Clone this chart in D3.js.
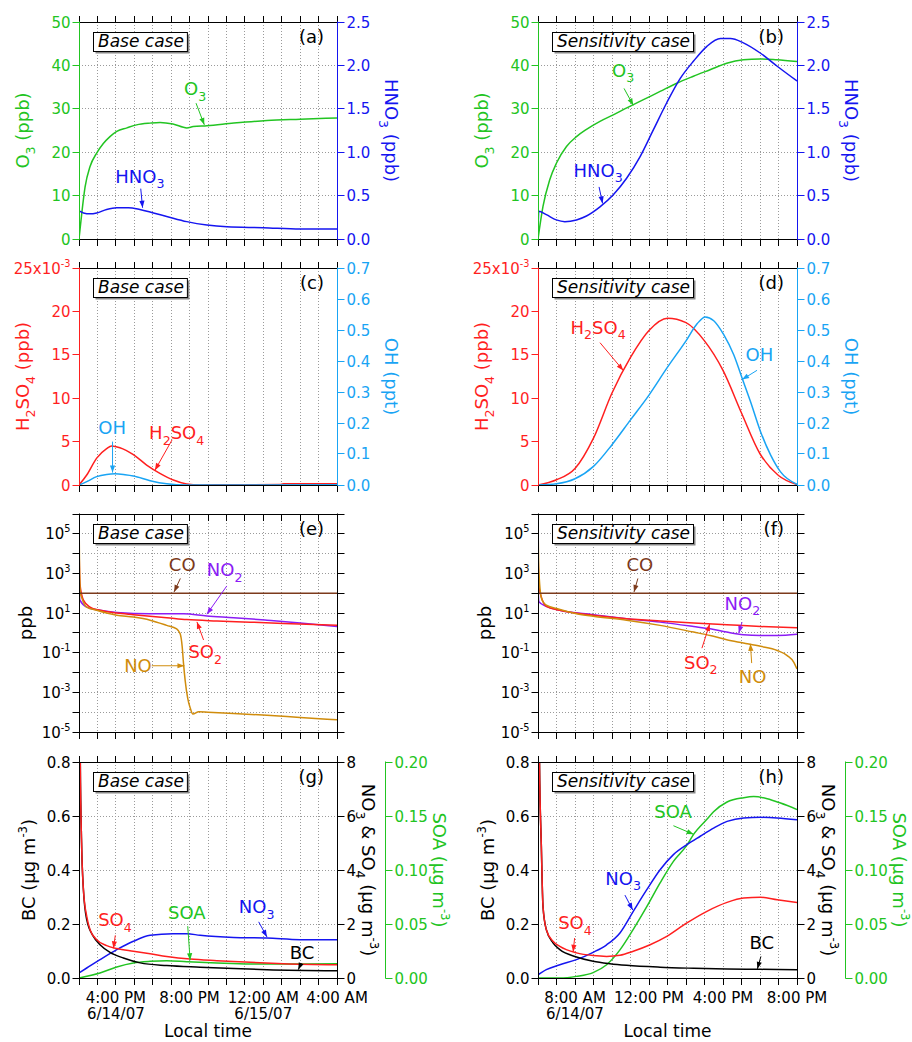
<!DOCTYPE html>
<html><head><meta charset="utf-8">
<script src="https://cdn.jsdelivr.net/npm/d3@7"></script>
<style>body{margin:0;background:#fff}svg{display:block}text{font-family:"DejaVu Sans",sans-serif}</style>
</head><body><svg id="chart" width="912" height="1042"></svg>
<script>
// ---------------- DATA (time in hours since start of run) ----------------
const HOURS = 14;
const baseStart = new Date(2007, 5, 14, 14, 0);   // 2:00 PM 6/14/07
const sensStart = new Date(2007, 5, 14, 6, 0);    // 6:00 AM 6/14/07
const labeledHours = [2, 6, 10, 14];

// tick values
const o3Ticks = [0, 10, 20, 30, 40, 50];
const hno3Ticks = [0, 0.5, 1.0, 1.5, 2.0, 2.5];
const h2so4Ticks = [0, 0.005, 0.010, 0.015, 0.020, 0.025];
const ohTicks = [0, 0.1, 0.2, 0.3, 0.4, 0.5, 0.6, 0.7];
const logExps = [-5, -4, -3, -2, -1, 0, 1, 2, 3, 4, 5, 6];
const logLabelExps = [5, 3, 1, -1, -3, -5];
const bcTicks = [0, 0.2, 0.4, 0.6, 0.8];
const aeroTicks = [0, 2, 4, 6, 8];
const soaTicks = [0, 0.05, 0.10, 0.15, 0.20];

// (a) base case: O3 (ppb), HNO3 (ppb)
const o3Base = [[0,0],[0.05,2],[0.15,5.9],[0.33,12],[0.6,16.7],[0.96,19.8],[1.32,22],[1.68,23.6],[2.05,24.8],[2.6,25.6],[3.13,26.3],[3.86,26.7],[4.4,26.85],[5.1,26.5],[5.85,25.6],[6.2,25.9],[6.94,26.1],[8.4,26.7],[10.2,27.3],[12.0,27.6],[14,27.9]];
const hno3Base = [[0,0],[0.02,0.32],[0.24,0.30],[0.6,0.29],[0.96,0.30],[1.5,0.34],[2.05,0.36],[2.68,0.36],[3.3,0.34],[4.04,0.30],[4.76,0.26],[5.85,0.20],[6.94,0.16],[8.03,0.14],[10.0,0.13],[12.0,0.115],[14,0.115]];
// (b) sensitivity case
const o3Sens = [[0,0],[0.27,7.5],[0.63,13.6],[1.0,17.5],[1.54,21.3],[2.08,23.6],[2.6,25.2],[3.35,27.1],[4.07,28.6],[4.8,30.2],[5.7,32.1],[6.6,34],[7.5,35.9],[8.4,37.5],[9.3,39],[10.2,40.5],[11.1,41.3],[12.0,41.5],[12.9,41.3],[14,40.9]];
const hno3Sens = [[0,0],[0.04,0.32],[0.45,0.28],[0.99,0.22],[1.45,0.20],[2.08,0.22],[2.62,0.265],[3.35,0.37],[4.07,0.51],[4.79,0.70],[5.52,0.95],[6.24,1.26],[6.96,1.57],[7.69,1.85],[8.41,2.05],[9.13,2.22],[9.86,2.31],[10.4,2.31],[11.1,2.26],[12.03,2.14],[12.93,1.99],[14,1.82]];
// (c) base case: H2SO4 (ppb), OH (ppt)
const h2so4Base = [[0,0],[0.42,1.15e-3],[0.96,3.1e-3],[1.5,4.2e-3],[1.77,4.5e-3],[2.22,4.3e-3],[2.95,3.5e-3],[3.67,2.3e-3],[4.39,1.35e-3],[5.12,0.58e-3],[5.84,0.12e-3],[6.56,0],[8,0.03e-3],[10.9,0.05e-3],[11.1,0.15e-3],[14,0.15e-3]];
const ohBase = [[0,0],[0.42,0.011],[0.96,0.027],[1.5,0.034],[1.95,0.036],[2.5,0.033],[2.95,0.029],[3.86,0.014],[4.76,0.004],[5.84,0],[14,0.001]];
// (d) sensitivity case
const h2so4Sens = [[0,0],[1,0.6e-3],[2,1.9e-3],[3,5.4e-3],[4,10.6e-3],[5,14.7e-3],[6,17.8e-3],[7,19.2e-3],[8,18.7e-3],[9,16.6e-3],[10,13.2e-3],[11,8.3e-3],[12,3.6e-3],[13,1.1e-3],[14,0.05e-3]];
const ohSens = [[0,0],[1,0.004],[2,0.02],[3,0.06],[4,0.13],[5,0.21],[6,0.29],[7,0.38],[8,0.465],[8.6,0.52],[9.04,0.542],[9.5,0.53],[10.04,0.485],[10.58,0.42],[11.03,0.345],[11.48,0.27],[12.03,0.172],[12.57,0.097],[13.1,0.043],[14,0.002]];
// (e) base case gases (ppb)
const coBase = [[0,3e4],[0.02,100],[14,100]];
const noBase = [[0,8e5],[0.03,2e3],[0.08,100],[0.15,60],[0.42,20],[0.96,13.8],[2.05,7.8],[2.95,6.3],[3.86,4.4],[4.76,2.4],[5.3,1.6],[5.49,0.9],[5.6,0.2],[5.67,0.03],[5.76,0.004],[5.9,5e-4],[6.03,1.7e-4],[6.18,8e-5],[6.5,1.05e-4],[7.0,1.0e-4],[8.39,8.5e-5],[10.2,7e-5],[12.0,5.4e-5],[14,4.1e-5]];
const so2Base = [[0,3e4],[0.05,300],[0.24,45],[0.6,20],[1.14,13.8],[2.05,10],[2.95,8.3],[4.76,5.9],[5.85,4.7],[7.48,4.0],[9.29,3.5],[11.1,3.0],[14,2.4]];
const no2Base = [[0,200],[0.05,45],[0.42,20],[1.14,13.8],[2.05,10.7],[3.86,9.3],[5.67,9.3],[6.94,7.2],[8.39,5.9],[10.2,4.4],[12.0,3.2],[14,2.1]];
// (f) sensitivity case gases (ppb)
const coSens = [[0,3e4],[0.02,100],[14,100]];
const noSens = [[0,8e5],[0.04,2e3],[0.18,60],[0.45,25],[1.0,17],[2.08,9.3],[2.98,6.9],[4.79,4.4],[6.6,2.4],[8.41,1.1],[9.31,0.74],[10.2,0.45],[11.1,0.31],[12.03,0.21],[12.93,0.13],[13.47,0.072],[13.83,0.033],[14,0.015]];
const so2Sens = [[0,3e4],[0.05,200],[0.45,22],[1.17,13.8],[2.98,7.8],[4.79,5.2],[6.6,4.0],[8.41,3.2],[10.2,2.6],[12.03,2.1],[14,1.8]];
const no2Sens = [[0,200],[0.05,37],[0.45,22],[1.17,13.8],[2.98,8.3],[4.79,5.2],[6.6,3.5],[8.41,2.1],[9.31,1.6],[10.2,1.1],[11.1,0.81],[12.03,0.74],[12.93,0.74],[14,0.85]];
// (g) base case aerosol (ug m-3)
const bcBase = [[0.03,2],[0.07,0.8],[0.14,0.5],[0.24,0.327],[0.42,0.216],[0.78,0.154],[1.14,0.123],[1.68,0.095],[2.41,0.074],[3.32,0.056],[4.76,0.046],[6.57,0.04],[8.39,0.035],[10.2,0.031],[14,0.027]];
const so4Base = [[0.03,20],[0.07,8],[0.14,5.0],[0.24,3.27],[0.42,2.28],[0.6,1.79],[0.96,1.42],[1.5,1.2],[2.05,1.09],[2.95,0.99],[3.86,0.9],[4.76,0.8],[6.03,0.7],[7.48,0.64],[9.29,0.58],[11.1,0.53],[14,0.49]];
const no3Base = [[0,0.19],[0.42,0.37],[1.14,0.68],[2.05,1.05],[2.95,1.36],[3.86,1.58],[5.1,1.64],[5.85,1.64],[6.57,1.58],[8.39,1.5],[10.2,1.48],[12.0,1.42],[14,1.42]];
const soaBase = [[0,0],[1.14,0.0046],[2.05,0.0102],[2.95,0.0139],[3.86,0.0154],[4.76,0.016],[5.85,0.0151],[7.48,0.0139],[9.29,0.013],[12.0,0.013],[14,0.0133]];
// (h) sensitivity case aerosol
const bcSens = [[0.03,2],[0.08,0.8],[0.18,0.49],[0.27,0.265],[0.45,0.179],[0.81,0.13],[1.18,0.105],[2.08,0.078],[2.98,0.062],[3.89,0.053],[4.79,0.047],[6.6,0.04],[8.41,0.036],[10.22,0.033],[12.03,0.032],[14,0.031]];
const so4Sens = [[0.03,20],[0.08,8],[0.18,4.9],[0.27,2.65],[0.45,1.79],[0.81,1.36],[1.18,1.17],[2.08,0.93],[2.98,0.83],[3.71,0.8],[4.43,0.84],[5.15,0.99],[6.06,1.23],[6.96,1.54],[8.05,2.04],[9.13,2.47],[10.22,2.8],[11.12,2.96],[12.03,2.99],[12.93,2.9],[14,2.8]];
const no3Sens = [[0,0.12],[0.45,0.31],[1.18,0.49],[2.08,0.68],[2.98,0.95],[3.71,1.23],[4.43,1.67],[5.15,2.47],[5.88,3.27],[6.6,4.01],[7.32,4.57],[8.05,4.94],[8.77,5.25],[9.49,5.55],[10.22,5.8],[11.12,5.93],[12.03,5.95],[12.93,5.93],[14,5.86]];
const soaSens = [[0,0],[1.18,0],[2.08,0.0015],[2.98,0.005],[3.71,0.0123],[4.43,0.026],[5.15,0.045],[5.88,0.066],[6.6,0.088],[7.32,0.108],[8.05,0.123],[8.41,0.133],[9.13,0.147],[9.49,0.154],[10.22,0.163],[11.12,0.167],[11.66,0.168],[12.39,0.166],[13.11,0.162],[14,0.156]];

// ---------------- DRAWING ----------------
const svg = d3.select('#chart');
const C = {green:'#22c422', blue:'#1515f0', red:'#ff1f1f', oh:'#19a4f4', no:'#d08c0c', no2:'#8b1cf5', co:'#7c3a1c', black:'#000', grid:'#9a9a9a'};
const cols = [{left:79, right:337, start:baseStart}, {left:538, right:797, start:sensStart}];
const rows = [{top:22, bottom:239}, {top:268, bottom:485}, {top:514, bottom:732}, {top:762, bottom:978}];
const toDate = (start, h) => new Date(start.getTime() + h * 3600e3);
const snap = v => Math.floor(v) + 0.5;
const fmtTime = d3.timeFormat('%-I:%M %p');
const fmtDate = d3.timeFormat('%-m/%d/%y');

function rich(sel, parts, fs) {
  let shift = 0;
  (typeof parts === 'string' ? [parts] : parts).forEach(p => {
    let t, s = 0, size = fs;
    if (typeof p === 'string') t = p;
    else if (p.sub !== undefined) { t = p.sub; s = fs * 0.3; size = fs * 0.7; }
    else { t = p.sup; s = -fs * 0.45; size = fs * 0.65; }
    sel.append('tspan').attr('dy', s - shift).attr('font-size', size).text(t);
    shift = s;
  });
}

function line(g, x1, y1, x2, y2, color, w = 1, dash) {
  const l = g.append('line').attr('x1', x1).attr('y1', y1).attr('x2', x2).attr('y2', y2)
    .attr('stroke', color).attr('stroke-width', w);
  if (dash) l.attr('stroke-dasharray', dash);
  return l;
}

function makePanel(col, row, cfg) {
  const c = cols[col], r = rows[row];
  const L = c.left, R = c.right, T = r.top, B = r.bottom;
  const x = d3.scaleTime().domain([c.start, toDate(c.start, HOURS)]).range([L, R]);
  const p = {x, start: c.start, L, R, T, B, col, row};
  const gGrid = svg.append('g');
  d3.range(1, HOURS).forEach(h => {
    const xx = snap(x(toDate(c.start, h)));
    line(gGrid, xx, T, xx, B, C.grid, 1, '1,2');
  });
  (cfg.hgrid || []).forEach(v => {
    const yy = snap(cfg.yL(v));
    line(gGrid, L, yy, R, yy, C.grid, 1, '1,2');
  });
  const id = 'clip' + col + row;
  svg.append('clipPath').attr('id', id).append('rect')
    .attr('x', L).attr('y', T).attr('width', R - L).attr('height', B - T);
  p.plot = svg.append('g').attr('clip-path', 'url(#' + id + ')');
  const gF = svg.append('g');
  line(gF, L, snap(T), R + 1, snap(T), C.black);
  line(gF, L, snap(B), R + 1, snap(B), C.black);
  d3.range(0, HOURS + 1).forEach(h => {
    const xx = snap(x(toDate(c.start, h)));
    line(gF, xx, snap(T), xx, cfg.topIn ? T + 7 : T - 6, C.black);
    line(gF, xx, snap(B), xx, B + 7, C.black);
  });
  if (cfg.xLabels) {
    const gx = svg.append('g');
    labeledHours.forEach((h, i) => {
      const d = toDate(c.start, h), xx = x(d);
      gx.append('text').attr('x', xx).attr('y', 1003).attr('text-anchor', 'middle')
        .attr('font-size', 15).text(fmtTime(d));
      if (i === 0 || d.getHours() === 0)
        gx.append('text').attr('x', xx).attr('y', 1019).attr('text-anchor', 'middle')
          .attr('font-size', 15).text(fmtDate(d));
    });
    gx.append('text').attr('x', (L + R) / 2).attr('y', 1037).attr('text-anchor', 'middle')
      .attr('font-size', 17).text('Local time');
  }
  p.ann = svg.append('g');
  return p;
}

function yAxis(p, scale, xPos, side, ticks, fmt, color, labeled) {
  const g = svg.append('g');
  const xx = snap(xPos);
  const [y0, y1] = scale.range();
  line(g, xx, Math.max(y0, y1) + 0.5, xx, Math.min(y0, y1) - 0.5, color);
  const dir = side === 'left' ? -1 : 1;
  ticks.forEach(v => {
    const y = snap(scale(v));
    line(g, xx, y, xx + dir * 7, y, color);
    if (fmt && (!labeled || labeled(v))) {
      const t = g.append('text').attr('x', xx + dir * 9).attr('y', y + 5.5)
        .attr('text-anchor', side === 'left' ? 'end' : 'start').attr('fill', color).attr('font-size', 15);
      rich(t, fmt(v), 15);
    }
  });
}

function title(xc, yc, rot, parts, color, fs = 18) {
  const t = svg.append('text').attr('transform', `translate(${xc},${yc}) rotate(${rot})`)
    .attr('x', 0).attr('y', fs * 0.36).attr('text-anchor', 'middle').attr('fill', color).attr('font-size', fs);
  rich(t, parts, fs);
}

function series(p, data, y, color, linear) {
  const gen = d3.line().x(d => p.x(toDate(p.start, d[0]))).y(d => y(d[1]))
    .curve(linear ? d3.curveLinear : d3.curveMonotoneX);
  p.plot.append('path').datum(data).attr('d', gen).attr('fill', 'none')
    .attr('stroke', color).attr('stroke-width', 1.5).attr('stroke-linejoin', 'round');
}

function note(p, y, color, parts, lab, from, to) {
  const X = h => p.x(toDate(p.start, h));
  const t = p.ann.append('text').attr('x', X(lab[0])).attr('y', y(lab[1]) + 6.5)
    .attr('text-anchor', 'middle').attr('fill', color).attr('font-size', 18);
  rich(t, parts, 18);
  const x1 = X(from[0]), y1 = y(from[1]), x2 = X(to[0]), y2 = y(to[1]);
  line(p.ann, x1, y1, x2, y2, color, 1);
  const a = Math.atan2(y2 - y1, x2 - x1), Lh = 7, W = 2.6;
  const pts = [[x2, y2],
    [x2 - Lh * Math.cos(a) + W * Math.sin(a), y2 - Lh * Math.sin(a) - W * Math.cos(a)],
    [x2 - Lh * Math.cos(a) - W * Math.sin(a), y2 - Lh * Math.sin(a) + W * Math.cos(a)]];
  p.ann.append('polygon').attr('points', pts.map(q => q.join(',')).join(' ')).attr('fill', color);
}

function caseBox(p, label, letter) {
  const g = svg.append('g');
  const t = g.append('text').attr('x', p.L + 19).attr('y', p.T + 25).attr('font-size', 17)
    .attr('font-style', 'italic').text(label);
  const w = t.node().getComputedTextLength();
  g.insert('rect', 'text').attr('x', p.L + 16.5).attr('y', p.T + 12.5).attr('width', w + 8).attr('height', 19).attr('fill', '#888');
  g.insert('rect', 'text').attr('x', p.L + 14.5).attr('y', p.T + 10.5).attr('width', w + 8).attr('height', 19)
    .attr('fill', '#fff').attr('stroke', '#000').attr('stroke-width', 1);
  svg.append('text').attr('x', p.R - 13).attr('y', p.T + 21).attr('text-anchor', 'end')
    .attr('font-size', 18).text(letter);
}

const fx1 = v => v.toFixed(1);
const O3T = ['O', {sub: '3'}, ' (ppb)'];
const HNO3T = ['HNO', {sub: '3'}, ' (ppb)'];
const H2SO4T = ['H', {sub: '2'}, 'SO', {sub: '4'}, ' (ppb)'];
const OHT = 'OH (ppt)';
const BCT = ['BC (µg m', {sup: '-3'}, ')'];
const AEROT = ['NO', {sub: '3'}, ' & SO', {sub: '4'}, ' (µg m', {sup: '-3'}, ')'];
const SOAT = ['SOA (µg m', {sup: '-3'}, ')'];
const O3L = ['O', {sub: '3'}], HNO3L = ['HNO', {sub: '3'}], H2SO4L = ['H', {sub: '2'}, 'SO', {sub: '4'}];
const NO2L = ['NO', {sub: '2'}], SO2L = ['SO', {sub: '2'}], NO3L = ['NO', {sub: '3'}], SO4L = ['SO', {sub: '4'}];

// ---- Row 1: O3 / HNO3 ----
[0, 1].forEach(col => {
  const r = rows[0];
  const yL = d3.scaleLinear().domain([0, 50]).range([r.bottom, r.top]);
  const yR = d3.scaleLinear().domain([0, 2.5]).range([r.bottom, r.top]);
  const p = makePanel(col, 0, {yL, hgrid: [10, 20, 30, 40]});
  series(p, col ? o3Sens : o3Base, yL, C.green);
  series(p, col ? hno3Sens : hno3Base, yR, C.blue);
  yAxis(p, yL, p.L, 'left', o3Ticks, v => String(v), C.green);
  yAxis(p, yR, p.R, 'right', hno3Ticks, fx1, C.blue);
  title(p.L - 56, (r.top + r.bottom) / 2, -90, O3T, C.green);
  title(p.R + 54, (r.top + r.bottom) / 2, 90, HNO3T, C.blue);
  if (col === 0) {
    note(p, yL, C.green, O3L, [6.3, 34.6], [6.35, 31.3], [6.8, 26.3]);
    note(p, yR, C.blue, HNO3L, [3.3, 0.72], [3.35, 0.58], [3.45, 0.36]);
    caseBox(p, 'Base case', '(a)');
  } else {
    note(p, yL, C.green, O3L, [4.6, 38.9], [4.65, 34.7], [5.15, 30.8]);
    note(p, yR, C.blue, HNO3L, [3.25, 0.79], [3.3, 0.6], [3.49, 0.41]);
    caseBox(p, 'Sensitivity case', '(b)');
  }
});

// ---- Row 2: H2SO4 / OH ----
[0, 1].forEach(col => {
  const r = rows[1];
  const yL = d3.scaleLinear().domain([0, 0.025]).range([r.bottom, r.top]);
  const yR = d3.scaleLinear().domain([0, 0.7]).range([r.bottom, r.top]);
  const p = makePanel(col, 1, {yL});
  series(p, col ? h2so4Sens : h2so4Base, yL, C.red);
  series(p, col ? ohSens : ohBase, yR, C.oh);
  yAxis(p, yL, p.L, 'left', h2so4Ticks, v => {
    const m = Math.round(v * 1000);
    return m === 25 ? ['25x10', {sup: '-3'}] : String(m);
  }, C.red);
  yAxis(p, yR, p.R, 'right', ohTicks, fx1, C.oh);
  title(p.L - 56, (r.top + r.bottom) / 2, -90, H2SO4T, C.red);
  title(p.R + 54, (r.top + r.bottom) / 2, 90, OHT, C.oh);
  if (col === 0) {
    note(p, yR, C.oh, ['OH'], [1.8, 0.184], [1.82, 0.14], [1.82, 0.04]);
    note(p, yL, C.red, H2SO4L, [5.3, 0.0060], [5.05, 0.0052], [4.12, 0.0017]);
    caseBox(p, 'Base case', '(c)');
  } else {
    note(p, yL, C.red, H2SO4L, [3.25, 0.0182], [3.35, 0.0164], [4.61, 0.0132]);
    note(p, yR, C.oh, ['OH'], [11.97, 0.42], [11.84, 0.37], [11.03, 0.34]);
    caseBox(p, 'Sensitivity case', '(d)');
  }
});

// ---- Row 3: gases on log axis ----
[0, 1].forEach(col => {
  const r = rows[2];
  const y = d3.scaleLog().domain([1e-5, 1e6]).range([r.bottom, r.top]);
  const decades = logExps.map(e => Math.pow(10, e));
  const p = makePanel(col, 2, {yL: y, hgrid: decades.filter(v => v > 1e-5 && v < 1e6), topIn: true});
  series(p, col ? no2Sens : no2Base, y, C.no2);
  series(p, col ? so2Sens : so2Base, y, C.red);
  series(p, col ? noSens : noBase, y, C.no);
  series(p, col ? coSens : coBase, y, C.co, true);
  yAxis(p, y, p.L, 'left', decades, v => ['10', {sup: String(Math.round(Math.log10(v)))}], C.black,
    v => logLabelExps.includes(Math.round(Math.log10(v))));
  yAxis(p, y, p.R, 'right', decades, null, C.black);
  title(p.L - 53, (r.top + r.bottom) / 2, -90, 'ppb', C.black);
  if (col === 0) {
    note(p, y, C.co, ['CO'], [5.6, 2700], [5.5, 560], [5.16, 117]);
    note(p, y, C.no2, NO2L, [7.9, 1500], [8.02, 234], [6.94, 8.8]);
    note(p, y, C.red, SO2L, [6.85, 0.11], [6.76, 0.44], [6.4, 3.6]);
    note(p, y, C.no, ['NO'], [3.2, 0.022], [3.95, 0.022], [5.72, 0.022]);
    caseBox(p, 'Base case', '(e)');
  } else {
    note(p, y, C.co, ['CO'], [5.5, 2700], [5.4, 560], [5.19, 117]);
    note(p, y, C.no2, NO2L, [11.05, 32], [11.03, 3.5], [10.85, 1.0]);
    note(p, y, C.red, SO2L, [8.8, 0.034], [8.86, 0.17], [9.28, 2.8]);
    note(p, y, C.no, ['NO'], [11.6, 0.006], [11.55, 0.03], [11.48, 0.28]);
    caseBox(p, 'Sensitivity case', '(f)');
  }
});

// ---- Row 4: aerosol ----
[0, 1].forEach(col => {
  const r = rows[3];
  const yL = d3.scaleLinear().domain([0, 0.8]).range([r.bottom, r.top]);
  const yR = d3.scaleLinear().domain([0, 8]).range([r.bottom, r.top]);
  const yS = d3.scaleLinear().domain([0, 0.2]).range([r.bottom, r.top]);
  const p = makePanel(col, 3, {yL, hgrid: [0.2, 0.4, 0.6], xLabels: true});
  series(p, col ? soaSens : soaBase, yS, C.green);
  series(p, col ? no3Sens : no3Base, yR, C.blue);
  series(p, col ? bcSens : bcBase, yL, C.black);
  series(p, col ? so4Sens : so4Base, yR, C.red);
  yAxis(p, yL, p.L, 'left', bcTicks, fx1, C.black);
  yAxis(p, yR, p.R, 'right', aeroTicks, v => String(v), C.black);
  yAxis(p, yS, p.R + 48, 'right', soaTicks, v => v.toFixed(2), C.green);
  title(p.L - 50, (r.top + r.bottom) / 2, -90, BCT, C.black);
  title(p.R + 31, (r.top + r.bottom) / 2, 90, AEROT, C.black);
  title(p.R + 102, (r.top + r.bottom) / 2, 90, SOAT, C.green);
  if (col === 0) {
    note(p, yR, C.red, SO4L, [1.95, 2.15], [1.97, 1.58], [1.87, 1.1]);
    note(p, yS, C.green, ['SOA'], [5.85, 0.061], [5.9, 0.048], [6.03, 0.0165]);
    note(p, yR, C.blue, NO3L, [9.64, 2.63], [9.75, 2.08], [10.2, 1.52]);
    note(p, yL, C.black, ['BC'], [12.1, 0.096], [12.05, 0.054], [11.9, 0.031]);
    caseBox(p, 'Base case', '(g)');
  } else {
    note(p, yS, C.green, ['SOA'], [7.3, 0.154], [7.32, 0.141], [8.41, 0.133]);
    note(p, yR, C.blue, NO3L, [4.6, 3.7], [4.7, 3.07], [5.12, 2.52]);
    note(p, yR, C.red, SO4L, [2.0, 2.04], [1.98, 1.48], [1.9, 0.97]);
    note(p, yL, C.black, ['BC'], [12.1, 0.133], [12.05, 0.08], [11.86, 0.034]);
    caseBox(p, 'Sensitivity case', '(h)');
  }
});
</script></body></html>
